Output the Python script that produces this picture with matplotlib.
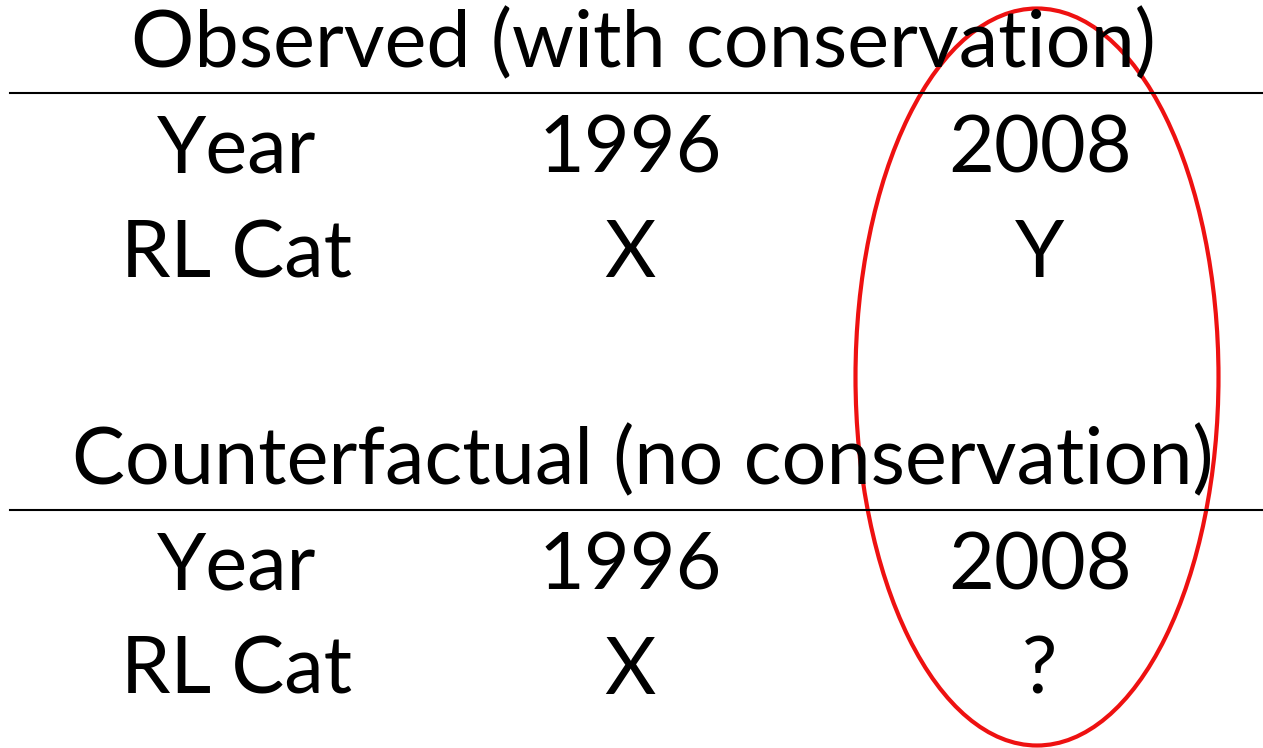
import matplotlib
matplotlib.use('Agg')
import matplotlib.pyplot as plt
from matplotlib.patches import Ellipse

# Table content
titles = ['Observed (with conservation)', 'Counterfactual (no conservation)']
row_labels = ['Year', 'RL Cat']
years = ['1996', '2008']
observed_cat = ['X', 'Y']
counterfactual_cat = ['X', '?']

plt.rcParams['font.family'] = ['Lato', 'DejaVu Sans']

fig = plt.figure(figsize=(12.63, 7.48), dpi=100)
ax = fig.add_axes([0, 0, 1, 1])
ax.set_xlim(0, 1263)
ax.set_ylim(748, 0)
ax.axis('off')

fs = 57
col_x = [237, 630, 1040]
blocks = [(titles[0], observed_cat, 45, 93, 150, 255),
          (titles[1], counterfactual_cat, 462, 510, 567, 672)]

for title, cats, ty, ly, yr_y, cat_y in blocks:
    ax.text(643, ty, title, fontsize=fs, ha='center', va='center')
    ax.plot([10, 1263], [ly, ly], color='black', lw=1.5)
    ax.text(col_x[0], yr_y, row_labels[0], fontsize=fs, ha='center', va='center')
    ax.text(col_x[0], cat_y, row_labels[1], fontsize=fs, ha='center', va='center')
    for x, yv, c in zip(col_x[1:], years, cats):
        ax.text(x, yr_y, yv, fontsize=fs, ha='center', va='center')
        ax.text(x, cat_y, c, fontsize=fs, ha='center', va='center')

ax.add_patch(Ellipse((1037, 377), 363, 737, fill=False, edgecolor='#ee1111', lw=3))

fig.savefig('out.png', dpi=100)
